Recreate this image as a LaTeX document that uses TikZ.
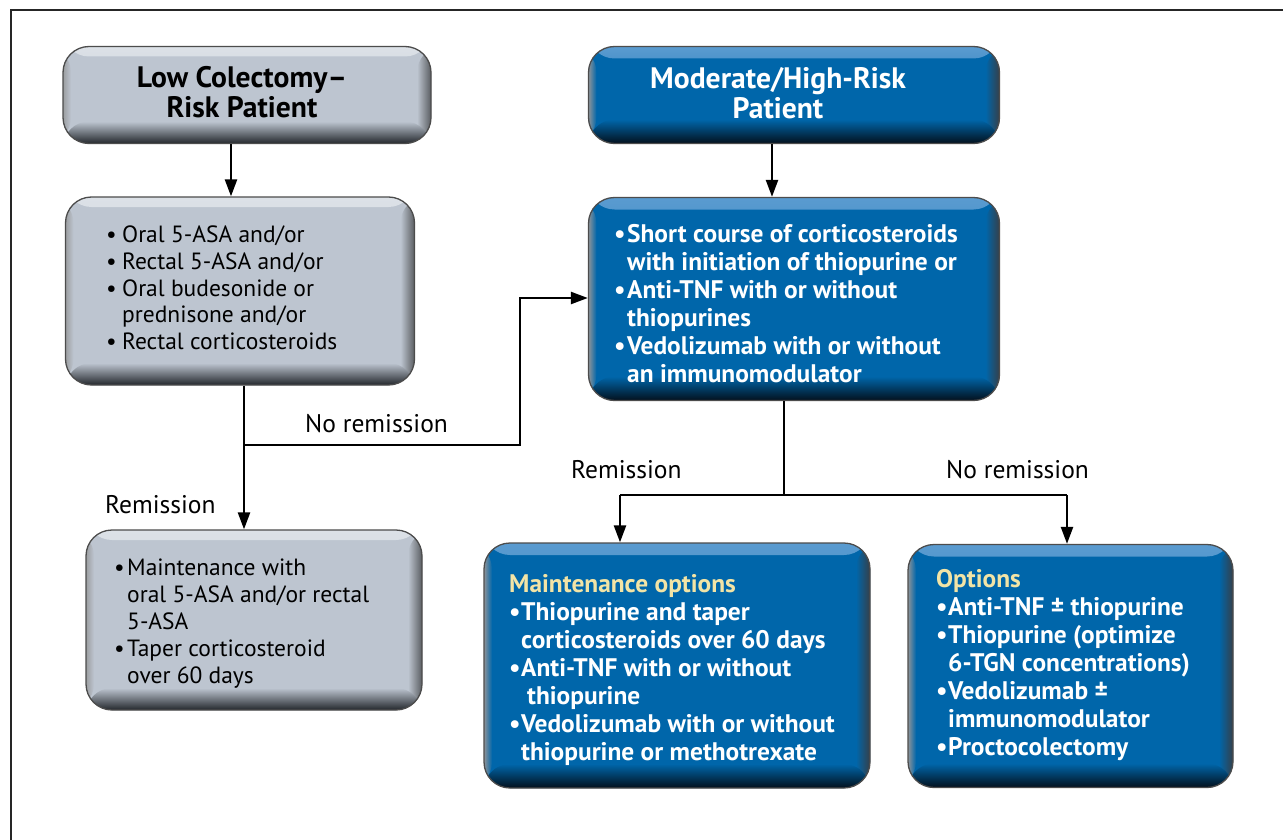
\documentclass[tikz,border=0pt]{standalone}
\usepackage{fontspec}
\setmainfont{PT Sans}
\usetikzlibrary{arrows.meta}
\definecolor{gmain}{HTML}{BDC5D0}
\definecolor{glight}{HTML}{DCE1E7}
\definecolor{gdark}{HTML}{23272C}
\definecolor{bmain}{HTML}{0066AA}
\definecolor{blight}{HTML}{5A9BD0}
\definecolor{bdark}{HTML}{03101C}
\definecolor{cream}{HTML}{F2E4A6}
\newlength\bw
\setlength\bw{14pt}
\newcommand{\bl}{\makebox[\bw][l]{•}}
\newcommand{\hg}{\hspace*{\bw}}
\newcommand{\llines}[1]{\vtop{\halign{##\hfil\cr#1\crcr}}}
\newcommand{\clines}[1]{\vtop{\halign{\hfil##\hfil\cr#1\crcr}}}
\tikzset{
  box/.style={rectangle, rounded corners=26pt, inner sep=0pt, line width=1.3pt, draw=black!70},
  gbox/.style={box, fill=gmain, path picture={
    \shade[top color=glight, bottom color=gmain] (path picture bounding box.north west) rectangle ([yshift=-10pt]path picture bounding box.north east);
    \shade[left color=gdark!45, right color=gmain] (path picture bounding box.north west) rectangle ([xshift=8pt]path picture bounding box.south west);
    \shade[left color=gmain, right color=gdark!75] ([xshift=-14pt]path picture bounding box.north east) rectangle (path picture bounding box.south east);
    \shade[top color=gmain, middle color=gmain!50!gdark, bottom color=gdark] ([yshift=22pt]path picture bounding box.south west) rectangle (path picture bounding box.south east);
  }},
  bbox/.style={box, fill=bmain, path picture={
    \shade[top color=blight, bottom color=bmain] (path picture bounding box.north west) rectangle ([yshift=-12pt]path picture bounding box.north east);
    \shade[left color=bdark!45, right color=bmain] (path picture bounding box.north west) rectangle ([xshift=8pt]path picture bounding box.south west);
    \shade[left color=bmain, right color=bdark!80] ([xshift=-14pt]path picture bounding box.north east) rectangle (path picture bounding box.south east);
    \shade[top color=bmain, middle color=bmain!45!bdark, bottom color=bdark] ([yshift=24pt]path picture bounding box.south west) rectangle (path picture bounding box.south east);
  }},
  head/.style={anchor=base, inner sep=0pt, font=\bfseries\fontsize{29.6}{30}\selectfont},
  body/.style={anchor=base west, inner sep=0pt, font=\fontsize{23.5}{27}\selectfont},
  bbody/.style={anchor=base west, inner sep=0pt, text=white, font=\bfseries\fontsize{25.4}{28}\selectfont},
  lbl/.style={anchor=base west, inner sep=0pt, font=\fontsize{25.5}{30}\selectfont},
  conn/.style={line width=2.4pt, black},
  arr/.style={conn, -{Triangle[length=17pt,width=12pt]}}
}
\begin{document}
\begin{tikzpicture}[x=1pt,y=-1pt]
\useasboundingbox (0,0) rectangle (1283,840);
\fill[white] (0,0) rectangle (1283,840);
\draw[line width=1.5pt, black!85] (11,840) -- (11,10) -- (1283,10);

% boxes
\node[gbox, minimum width=368pt, minimum height=97pt] (A) at (247,95) {};
\node[bbox, minimum width=411pt, minimum height=97pt] (B) at (794,95) {};
\node[gbox, minimum width=349pt, minimum height=188pt] (C) at (240,291) {};
\node[bbox, minimum width=411pt, minimum height=203pt] (D) at (794,299) {};
\node[gbox, minimum width=336pt, minimum height=180pt] (E) at (254,620) {};
\node[bbox, minimum width=386pt, minimum height=245pt] (F) at (677,665.5) {};
\node[bbox, minimum width=325pt, minimum height=243pt] (G) at (1070.5,666) {};

% texts
\node[head] (tA) at (242,88) {\clines{Low Colectomy–\cr Risk Patient}};
\node[head, text=white] (tB) at (778,89) {\clines{Moderate/High-Risk\cr Patient}};
\node[body] (tC) at (106,242) {\setlength\bw{16pt}\llines{\bl Oral 5-ASA and/or\cr \bl Rectal 5-ASA and/or\cr \bl Oral budesonide or\cr \hg prednisone and/or\cr \bl Rectal corticosteroids}};
\node[bbody] (tD) at (614,242) {\setlength\bw{13pt}\llines{\bl Short course of corticosteroids\cr \hg with initiation of thiopurine or\cr \bl Anti-TNF with or without\cr \hg thiopurines\cr \bl Vedolizumab with or without\cr \hg an immunomodulator}};
\node[body] (tE) at (114,575) {\setlength\bw{13pt}\llines{\bl Maintenance with\cr \hg oral 5-ASA and/or rectal\cr \hg 5-ASA\cr \bl Taper corticosteroid\cr \hg over 60 days}};
\node[bbody] (tF) at (509,592) {\setlength\bw{12pt}\llines{\textcolor{cream}{Maintenance options}\cr \bl Thiopurine and taper\cr \hg corticosteroids over 60 days\cr \bl Anti-TNF with or without\cr \hg\hspace*{6pt}thiopurine\cr \bl Vedolizumab with or without\cr \hg thiopurine or methotrexate}};
\node[bbody] (tG) at (936,587) {\setlength\bw{12pt}\llines{\textcolor{cream}{Options}\cr \bl Anti-TNF ± thiopurine\cr \bl Thiopurine (optimize\cr \hg 6-TGN concentrations)\cr \bl Vedolizumab ±\cr \hg immunomodulator\cr \bl Proctocolectomy}};

% labels
\node[lbl] (l1) at (305,432) {No remission};
\node[lbl] (l2) at (105,513) {Remission};
\node[lbl] (l3) at (571,478) {Remission};
\node[lbl] (l4) at (946,478) {No remission};

% connector coordinates
\coordinate (xa) at (231,0);
\coordinate (xb) at (772,0);
\coordinate (xc) at (244,0);
\coordinate (br) at (520,445);
\coordinate (jd) at (520,298);
\coordinate (xd) at (784,0);
\coordinate (bd) at (784,495);
\coordinate (fl) at (620,495);
\coordinate (gr) at (1067,495);

\draw[arr] (xa |- A.south) -- (xa |- C.north);
\draw[arr] (xb |- B.south) -- (xb |- D.north);
\draw[arr] (xc |- C.south) -- (xc |- E.north);
\draw[arr] (xc |- br) -- (br) -- (jd) -- (D.west |- jd);
\draw[conn] (xd |- D.south) -- (bd);
\draw[conn] (fl) -- (gr);
\draw[arr] (fl) -- (fl |- F.north);
\draw[arr] (gr) -- (gr |- G.north);
\end{tikzpicture}
\end{document}
